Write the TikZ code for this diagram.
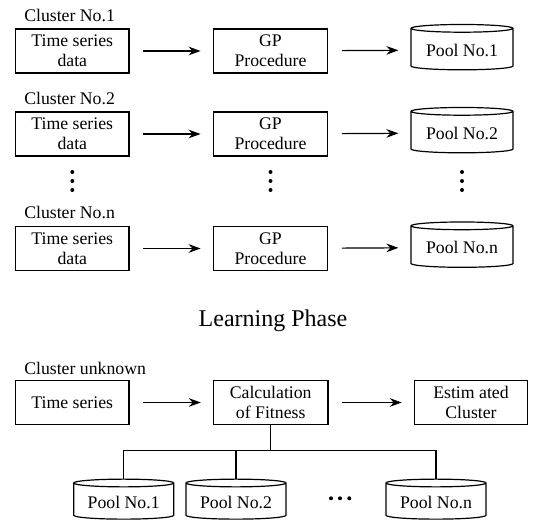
\documentclass[tikz,border=0pt]{standalone}
\usepackage{fontspec}
\setmainfont{Liberation Serif}
\usetikzlibrary{shapes.geometric, arrows.meta}

\begin{document}
\begin{tikzpicture}[x=0.75pt, y=-0.75pt,
    every node/.style={font=\fontsize{13.3}{15}\selectfont},
    box/.style={draw, line width=0.9pt, minimum width=85pt, minimum height=33pt, align=center, inner sep=2pt},
    pool/.style={draw, line width=0.9pt, cylinder, shape border rotate=90, shape aspect=0.1,
                 minimum width=76.5pt, minimum height=34pt, inner sep=2pt},
    arr/.style={-{Stealth[length=9pt,width=6.5pt]}, line width=0.9pt, shorten <=10pt, shorten >=9pt},
    lbl/.style={anchor=base west, inner sep=0pt}]
    \useasboundingbox (0,0) rectangle (533,523);

    % Cluster No.1
    \node[lbl] at (24,21.7) {Cluster No.1};
    \node[box] (ts1) at (72.3,51) {Time series\\data};
    \node[box, minimum width=86pt] (gp1) at (270.5,51) {GP\\Procedure};
    \node[pool] (pool1) at (462,50) {Pool No.1};
    \draw[arr] (ts1) -- (gp1);
    \draw[arr] (gp1) -- (pool1);

    % Cluster No.2
    \node[lbl] at (24,104.5) {Cluster No.2};
    \node[box] (ts2) at (72.3,134) {Time series\\data};
    \node[box, minimum width=86pt] (gp2) at (270.5,134) {GP\\Procedure};
    \node[pool] (pool2) at (462,133) {Pool No.2};
    \draw[arr] (ts2) -- (gp2);
    \draw[arr] (gp2) -- (pool2);

    % vertical dots
    \foreach \x in {72.3, 270.5, 462}
        \foreach \y in {172, 181, 190}
            \fill (\x,\y) circle (1.5pt);

    % Cluster No.n
    \node[lbl] at (24,219) {Cluster No.n};
    \node[box] (tsn) at (72.3,248.5) {Time series\\data};
    \node[box, minimum width=86pt] (gpn) at (270.5,248.5) {GP\\Procedure};
    \node[pool] (pooln) at (462,247.5) {Pool No.n};
    \draw[arr] (tsn) -- (gpn);
    \draw[arr] (gpn) -- (pooln);

    \node[font=\fontsize{18}{20}\selectfont, anchor=base] (phase) at (273,327) {Learning Phase};

    % Cluster unknown
    \node[lbl] at (24,375) {Cluster unknown};
    \node[box] (tsu) at (72.3,402.5) {Time series};
    \node[box, minimum width=86pt] (fit) at (270.7,402.5) {Calculation\\of Fitness};
    \node[box] (est) at (471,402.5) {Estim ated\\Cluster};
    \draw[arr] (tsu) -- (fit);
    \draw[arr] (fit) -- (est);

    % pools below
    \node[pool, minimum width=75pt, minimum height=30pt] (p1) at (123.7,502) {Pool No.1};
    \node[pool, minimum width=75pt, minimum height=30pt] (p2) at (236,502) {Pool No.2};
    \node[pool, minimum width=75pt, minimum height=30pt] (pn) at (436,502) {Pool No.n};
    \foreach \x in {331, 340, 349.3}
        \fill (\x,498.3) circle (1.5pt);

    \coordinate (bus) at (270.7,450.7);
    \draw[line width=0.9pt] (fit.south) -- (bus);
    \draw[line width=0.9pt] (p1.north) |- (bus) -| (pn.north);
    \draw[line width=0.9pt] (p2.north) -- (p2.north |- bus);
\end{tikzpicture}
\end{document}
